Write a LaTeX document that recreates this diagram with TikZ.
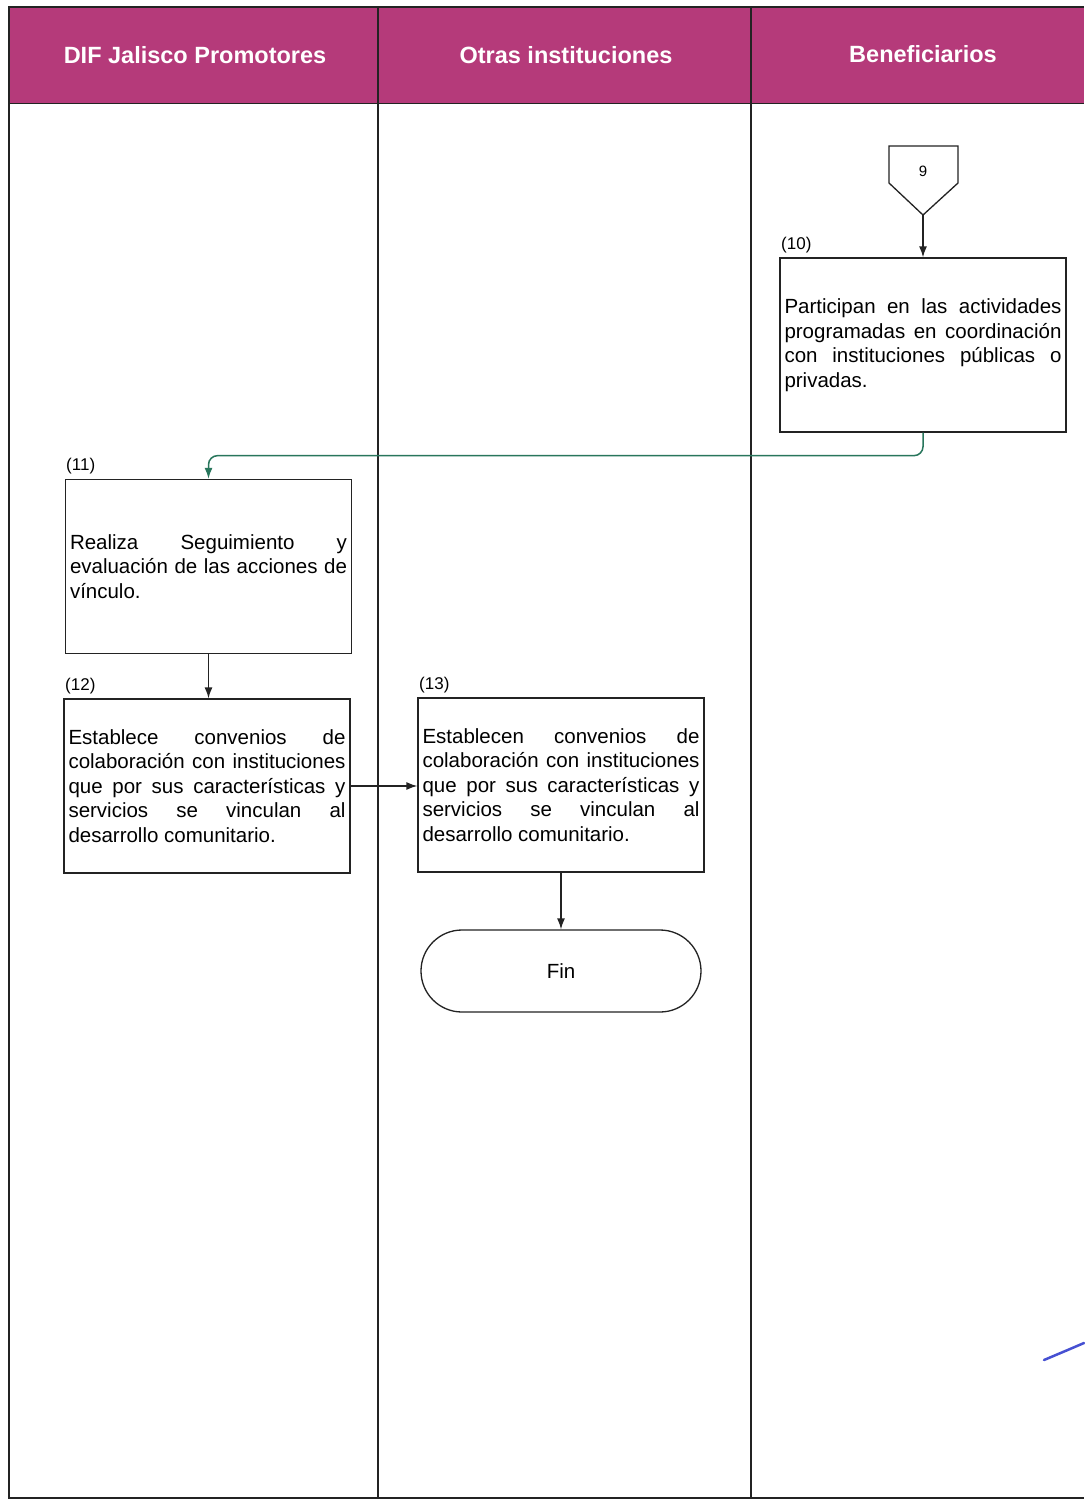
\documentclass[tikz,border=0pt]{standalone}
\usepackage{fontspec}
\setmainfont{Liberation Sans}
\usetikzlibrary{arrows.meta}
\definecolor{hdr}{RGB}{181,58,122}
\definecolor{flowgreen}{RGB}{40,118,92}
\definecolor{inkline}{RGB}{35,35,35}
\hyphenpenalty=10000
\tolerance=10000
\tikzset{
  lane/.style={draw=inkline, line width=1.5pt},
  hdrtext/.style={text=white, font=\fontsize{23.5}{28}\selectfont\bfseries},
  procbox/.style={draw=inkline, line width=1.3pt, minimum width=286pt, minimum height=174pt,
    text width=277pt, inner xsep=4.5pt, align=justify, font=\fontsize{20.5}{24.5}\selectfont},
  steplabel/.style={anchor=west, inner sep=0pt, font=\fontsize{17}{20}\selectfont},
  conn/.style={draw=inkline, line width=1.4pt, -{Latex[length=11pt,width=8pt]}},
  terminal/.style={draw=inkline, line width=1.3pt, rounded corners=41pt, minimum width=280pt,
    minimum height=82pt, font=\fontsize{20.5}{24.5}\selectfont}
}
\begin{document}
\begin{tikzpicture}[x=1pt,y=-1pt]
\useasboundingbox (0,0) rectangle (1084,1501);
\fill[white] (0,0) rectangle (1084,1501);
% header band
\fill[hdr] (10,7) rectangle (1084,104);
\node[hdrtext] (h1) at (195,55) {DIF Jalisco Promotores};
\node[hdrtext] (h2) at (566,55) {Otras instituciones};
\node[hdrtext] (h3) at (923,54) {Beneficiarios};
% frame and lanes
\draw[lane] (1084,7) -- (9,7) -- (9,1498) -- (1084,1498);
\draw[lane] (378,7) -- (378,1498);
\draw[lane] (751,7) -- (751,1498);
\draw[lane, line width=1pt] (9,104) -- (1084,104);
% off-page connector 9
\draw[inkline, line width=1.3pt] (889,146) -- (958,146) -- (958,183) -- (923,215) -- (889,183) -- cycle;
\node[font=\fontsize{15}{18}\selectfont] (c9) at (923,171) {9};
\coordinate (c9tip) at (923,215);
% step 10
\node[steplabel] (l10) at (781,245) {(10)};
\node[procbox] (b10) at (923,345) {Participan en las actividades\linebreak programadas en coordinación\linebreak con instituciones públicas o\linebreak privadas.};
% step 11
\node[steplabel] (l11) at (66,466) {(11)};
\node[procbox] (b11) at (208.5,566.5) {Realiza Seguimiento y\linebreak evaluación de las acciones de\linebreak vínculo.};
% step 12
\node[steplabel] (l12) at (65,686) {(12)};
\node[procbox] (b12) at (207,786) {Establece convenios de\linebreak colaboración con instituciones\linebreak que por sus características y\linebreak servicios se vinculan al\linebreak desarrollo comunitario.};
% step 13
\node[steplabel] (l13) at (419,685) {(13)};
\node[procbox] (b13) at (561,785) {Establecen convenios de\linebreak colaboración con instituciones\linebreak que por sus características y\linebreak servicios se vinculan al\linebreak desarrollo comunitario.};
% end
\node[terminal] (fin) at (561,971) {Fin};
% connectors
\draw[conn] (c9tip) -- (b10.north);
\draw[draw=flowgreen, line width=1.5pt, rounded corners=9pt, -{Latex[length=11pt,width=8pt]}]
  (b10.south) -- ++(0,23) -| (b11.north);
\draw[conn] (b11.south) -- (b11.south |- b12.north);
\draw[conn] (b12.east) -- (b12.east -| b13.west);
\draw[conn] (b13.south) -- (fin.north);
% pen mark
\draw[color={rgb,255:red,70;green,80;blue,210}, line width=2.5pt, line cap=round] (1044,1360) -- (1070,1349) -- (1084,1343);
\end{tikzpicture}
\end{document}
